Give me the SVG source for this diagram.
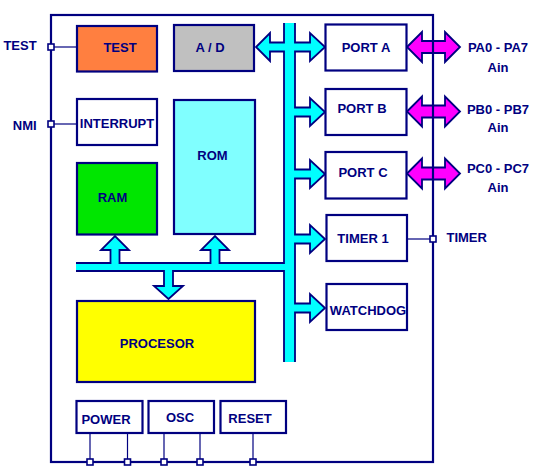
<svg xmlns="http://www.w3.org/2000/svg" width="540" height="471" viewBox="0 0 540 471">
<style>
.box{stroke:#000080;stroke-width:2.2}
.t{font-family:"Liberation Sans",Arial,sans-serif;font-weight:bold;font-size:13px;fill:#000080;text-anchor:middle}
.pin{fill:#fff;stroke:#000080;stroke-width:1.6}
.wire{stroke:#000080;stroke-width:1.2;fill:none}
.outl{fill:none;stroke:#000080;stroke-width:1.8;stroke-linejoin:miter}
.mag{fill:#FF00FF;stroke:#000080;stroke-width:1.8}
</style>
<rect width="540" height="471" fill="#fff"/>

<g id="connectors">
  <!-- bus fill -->
  <path fill="#00FFFF" d="M284,23 L295,23 L295,42.5 L310,42.5 L310,33 L325,47 L310,61 L310,51.5 L295,51.5 L295,107.5 L310,107.5 L310,98 L325,112 L310,126 L310,116.5 L295,116.5 L295,169.5 L310,169.5 L310,160 L325,174 L310,188 L310,178.5 L295,178.5 L295,234.5 L310,234.5 L310,225 L325,239 L310,253 L310,243.5 L295,243.5 L295,303.5 L310,303.5 L310,294 L325,308 L310,322 L310,312.5 L295,312.5 L295,362 L284,362 L284,271 L173,271 L173,286 L183,286 L168.5,299 L154,286 L164,286 L164,271 L76,271 L76,263 L110.5,263 L110.5,250 L101,250 L115,236 L129,250 L119.5,250 L119.5,263 L210.5,263 L210.5,250 L201,250 L215,236 L229,250 L219.5,250 L219.5,263 L284,263 L284,51.5 L270,51.5 L270,61 L256,47 L270,33 L270,42.5 L284,42.5 Z"/>
  <path class="outl" d="M295,23 L295,42.5 L310,42.5 L310,33 L325,47 L310,61 L310,51.5 L295,51.5 L295,107.5 L310,107.5 L310,98 L325,112 L310,126 L310,116.5 L295,116.5 L295,169.5 L310,169.5 L310,160 L325,174 L310,188 L310,178.5 L295,178.5 L295,234.5 L310,234.5 L310,225 L325,239 L310,253 L310,243.5 L295,243.5 L295,303.5 L310,303.5 L310,294 L325,308 L310,322 L310,312.5 L295,312.5 L295,362"/>
  <path class="outl" d="M284,362 L284,271 L173,271 L173,286 L183,286 L168.5,299 L154,286 L164,286 L164,271 L76,271"/>
  <path class="outl" d="M76,263 L110.5,263 L110.5,250 L101,250 L115,236 L129,250 L119.5,250 L119.5,263 L210.5,263 L210.5,250 L201,250 L215,236 L229,250 L219.5,250 L219.5,263 L284,263 L284,51.5 L270,51.5 L270,61 L256,47 L270,33 L270,42.5 L284,42.5 L284,23"/>

  <!-- magenta port arrows -->
  <path class="mag" d="M407,47 L422,32 L422,41 L445,41 L445,32 L460,47 L445,62 L445,53 L422,53 L422,62 Z"/>
  <path class="mag" d="M407,111.5 L422,96.5 L422,105.5 L445,105.5 L445,96.5 L460,111.5 L445,126.5 L445,117.5 L422,117.5 L422,126.5 Z"/>
  <path class="mag" d="M407,173.5 L422,158.5 L422,167.5 L445,167.5 L445,158.5 L460,173.5 L445,188.5 L445,179.5 L422,179.5 L422,188.5 Z"/>

  <!-- pin wires -->
  <line class="wire" x1="51" y1="47" x2="77" y2="47"/>
  <line class="wire" x1="51" y1="124" x2="77" y2="124"/>
  <line class="wire" x1="407" y1="239" x2="433" y2="239"/>
  <line class="wire" x1="90" y1="433" x2="90" y2="462"/>
  <line class="wire" x1="127.5" y1="433" x2="127.5" y2="462"/>
  <line class="wire" x1="164" y1="433" x2="164" y2="462"/>
  <line class="wire" x1="200" y1="433" x2="200" y2="462"/>
  <line class="wire" x1="253" y1="433" x2="253" y2="462"/>
</g>

<g id="chip">
  <rect x="51" y="15" width="382" height="447" fill="none" stroke="#000080" stroke-width="2.2"/>
</g>

<g id="pins">
  <rect class="pin" x="48" y="44" width="6" height="6"/>
  <rect class="pin" x="48" y="121" width="6" height="6"/>
  <rect class="pin" x="430" y="236" width="6" height="6"/>
  <rect class="pin" x="87" y="459" width="6" height="6"/>
  <rect class="pin" x="124.5" y="459" width="6" height="6"/>
  <rect class="pin" x="161" y="459" width="6" height="6"/>
  <rect class="pin" x="197" y="459" width="6" height="6"/>
  <rect class="pin" x="250" y="459" width="6" height="6"/>
</g>

<g id="test">
  <rect class="box" x="77" y="26" width="80" height="45.5" fill="#FF7F40"/>
  <text class="t" x="120" y="52">TEST</text>
</g>
<g id="ad">
  <rect class="box" x="174" y="25" width="80" height="46" fill="#C0C0C0"/>
  <text class="t" x="210" y="52">A / D</text>
</g>
<g id="interrupt">
  <rect class="box" x="77" y="99" width="80" height="46" fill="#fff"/>
  <text class="t" x="117" y="128">INTERRUPT</text>
</g>
<g id="rom">
  <rect class="box" x="174" y="100" width="81" height="134" fill="#80FFFF"/>
  <text class="t" x="212.5" y="160">ROM</text>
</g>
<g id="ram">
  <rect class="box" x="77" y="163" width="80" height="71.5" fill="#00E600"/>
  <text class="t" x="112.5" y="202">RAM</text>
</g>
<g id="procesor">
  <rect class="box" x="77" y="301" width="178" height="81" fill="#FFFF00"/>
  <text class="t" x="157" y="347.5">PROCESOR</text>
</g>
<g id="porta">
  <rect class="box" x="325.5" y="24.5" width="81" height="46" fill="#fff"/>
  <text class="t" x="366" y="52">PORT A</text>
</g>
<g id="portb">
  <rect class="box" x="325.5" y="89" width="81" height="46" fill="#fff"/>
  <text class="t" x="362" y="112.5">PORT B</text>
</g>
<g id="portc">
  <rect class="box" x="325.5" y="152" width="81" height="46.5" fill="#fff"/>
  <text class="t" x="363" y="177">PORT C</text>
</g>
<g id="timer1">
  <rect class="box" x="326.5" y="215" width="80.5" height="46" fill="#fff"/>
  <text class="t" x="363" y="243">TIMER 1</text>
</g>
<g id="watchdog">
  <rect class="box" x="326.5" y="284" width="80.5" height="46" fill="#fff"/>
  <text class="t" x="368" y="314.5">WATCHDOG</text>
</g>
<g id="power">
  <rect class="box" x="76.5" y="401" width="66" height="32" fill="#fff"/>
  <text class="t" x="106" y="423.5">POWER</text>
</g>
<g id="osc">
  <rect class="box" x="148.5" y="401" width="65.5" height="32" fill="#fff"/>
  <text class="t" x="180" y="421.5">OSC</text>
</g>
<g id="reset">
  <rect class="box" x="220.5" y="401" width="65.5" height="32" fill="#fff"/>
  <text class="t" x="250" y="423">RESET</text>
</g>

<g id="labels">
  <text class="t" x="20" y="49.5">TEST</text>
  <text class="t" x="24.7" y="129.5">NMI</text>
  <text class="t" x="466.7" y="242">TIMER</text>
  <text class="t" x="498" y="52">PA0 - PA7</text>
  <text class="t" x="498" y="72">Ain</text>
  <text class="t" x="498" y="113.5">PB0 - PB7</text>
  <text class="t" x="498" y="132">Ain</text>
  <text class="t" x="498" y="173">PC0 - PC7</text>
  <text class="t" x="498" y="192">Ain</text>
</g>
</svg>
